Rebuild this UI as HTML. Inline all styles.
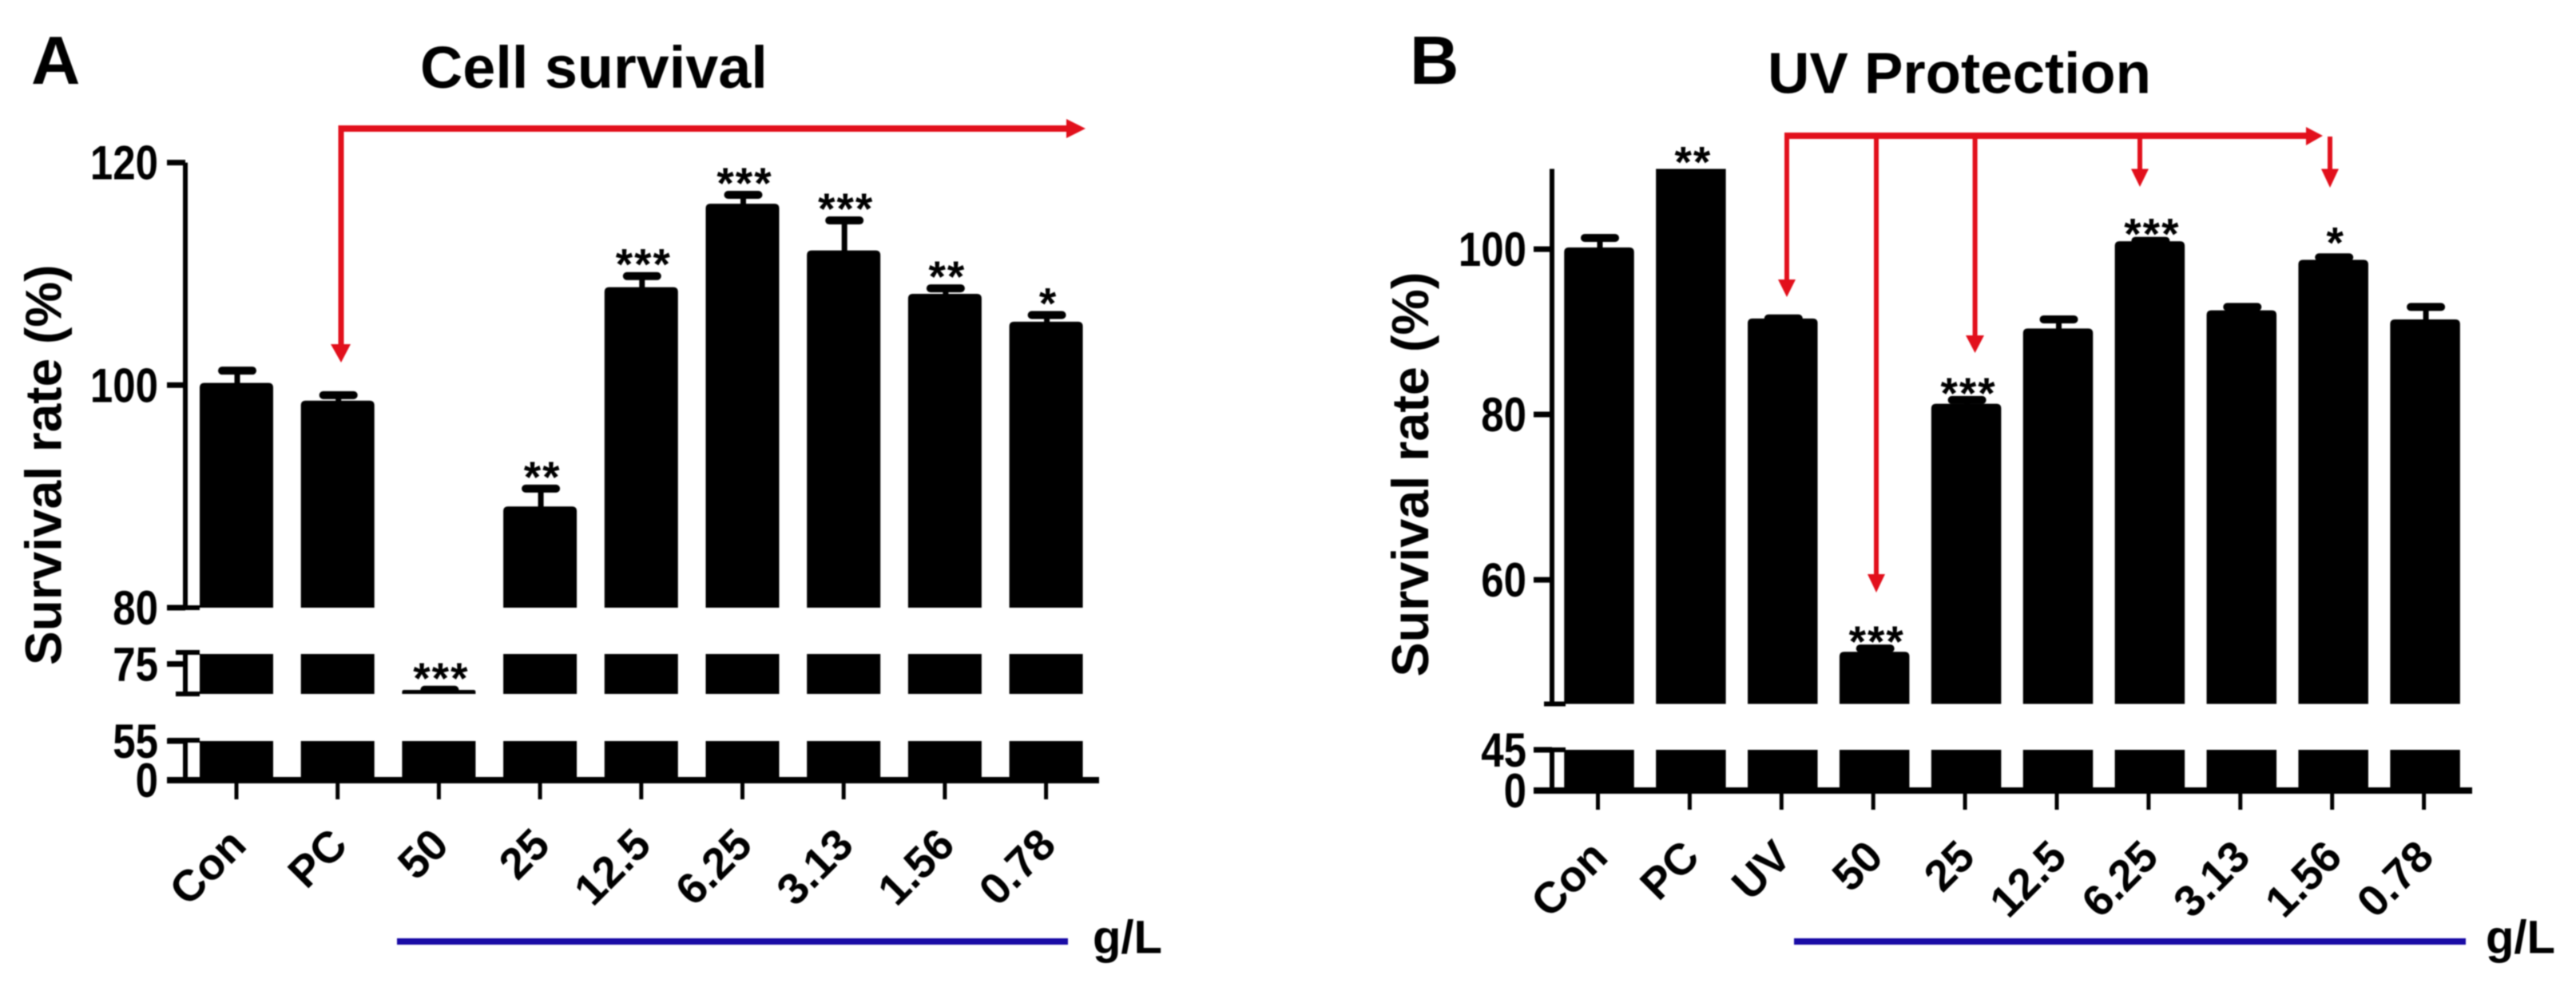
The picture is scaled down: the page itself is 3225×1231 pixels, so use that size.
<!DOCTYPE html>
<html lang="en">
<head>
<meta charset="utf-8">
<title>Cell survival and UV protection</title>
<style>
  html, body { margin: 0; padding: 0; background: #fff; }
  svg { display: block; filter: blur(0.7px); }
  text { font-family: "Liberation Sans", Arial, sans-serif; font-weight: bold; fill: #000; }
</style>
</head>
<body>
<svg id="figure" xmlns="http://www.w3.org/2000/svg" width="3225" height="1231" viewBox="0 0 3225 1231">
  <rect x="0" y="0" width="3225" height="1231" fill="#fff"/>

  <text x="39" y="105" font-size="85">A</text>
  <text x="526" y="110" font-size="73.8">Cell survival</text>
  <text transform="translate(76.5,833) rotate(-90)" font-size="64">Survival rate (%)</text>

  <g fill="#e2101c" stroke="none">
    <rect x="423.5" y="157" width="915" height="8"/>
    <rect x="423.5" y="157" width="7" height="278"/>
    <polygon points="414,431 439,431 427,454"/>
    <polygon points="1335,149 1359,161 1335,173"/>
  </g>
  <rect x="497" y="1175" width="840" height="8" fill="#1a0ca6"/>
  <text x="1368" y="1193.5" font-size="58">g/L</text>

  <text x="1765" y="105" font-size="85">B</text>
  <text x="2213" y="116.6" font-size="72.6">UV Protection</text>
  <text transform="translate(1788,847.5) rotate(-90)" font-size="64.7">Survival rate (%)</text>

  <g fill="#e2101c" stroke="none">
    <rect x="2234" y="166" width="655" height="8"/>
    <polygon points="2887,159 2908,170 2887,182"/>
    <rect x="2234" y="166" width="6" height="186"/>
    <polygon points="2226,350 2248,350 2237,372"/>
    <rect x="2346" y="166" width="6" height="555"/>
    <polygon points="2338,719 2360,719 2349,742"/>
    <rect x="2469.6" y="166" width="6" height="256"/>
    <polygon points="2461,420 2484,420 2472.6,442"/>
    <rect x="2676" y="166" width="6" height="47"/>
    <polygon points="2668,211.5 2690,211.5 2679,234"/>
    <rect x="2914" y="171" width="6" height="42"/>
    <polygon points="2906,211.5 2928,211.5 2917,235"/>
  </g>
  <rect x="2246" y="1175" width="841" height="8" fill="#1a0ca6"/>
  <text x="3112" y="1193.5" font-size="58">g/L</text>

  <g id="panel-a"></g>
  <g id="panel-b"></g>
</svg>

<script>
// Panel A data
const categoriesA = ["Con", "PC", "50", "25", "12.5", "6.25", "3.13", "1.56", "0.78"];
const valuesA = [100.2, 98.6, 72.4, 89.1, 108.8, 116.3, 112.1, 108.2, 105.7];
const errorTopsA = [101.3, 99.1, 72.42, 90.7, 109.8, 117.1, 114.8, 108.7, 106.3];
const significanceA = ["", "", "***", "**", "***", "***", "***", "**", "*"];
const tickLabelsA = [120, 100, 80, 75, 55, 0];

// Panel B data
const categoriesB = ["Con", "PC", "UV", "50", "25", "12.5", "6.25", "3.13", "1.56", "0.78"];
const valuesB = [100.2, 110, 91.6, 51.3, 81.3, 90.4, 100.95, 92.6, 98.7, 91.5];
const errorTopsB = [101.35, 110, 91.62, 51.7, 81.75, 91.5, 101, 93, 99, 93];
const significanceB = ["", "**", "", "***", "***", "", "***", "", "*", ""];
const tickLabelsB = [100, 80, 60, 45, 0];

const SVG_NS = "http://www.w3.org/2000/svg";

function make(tag, attrs, parent) {
  const el = document.createElementNS(SVG_NS, tag);
  for (const k in attrs) el.setAttribute(k, attrs[k]);
  parent.appendChild(el);
  return el;
}

function slug(s) {
  return String(s).replace(/\./g, "-").toLowerCase();
}

function drawPanel(parent, prefix, cfg, cats, vals, errs, sigs, ticks) {
  // Piecewise y axis: value to pixel. Lower segments win at shared boundaries.
  function segScale(seg, v) {
    return seg.y0 - (v - seg.lo) * (seg.y0 - seg.y1) / (seg.hi - seg.lo);
  }
  function y(v) {
    for (let s = cfg.segments.length - 1; s >= 0; s--) {
      const seg = cfg.segments[s];
      if (v >= seg.lo && v <= seg.hi) return segScale(seg, v);
    }
    return segScale(cfg.segments[0], cfg.segments[0].hi);
  }
  function x(i) {
    return cfg.x0 + cfg.step * i;
  }

  // Bars, one block per axis segment
  cats.forEach(function (cat, i) {
    cfg.segments.forEach(function (seg, s) {
      const v = vals[i];
      if (v <= seg.lo) return;
      const clipped = v >= seg.hi;
      const top = segScale(seg, Math.min(v, seg.hi));
      const left = x(i) + cfg.barShift - cfg.barWidth / 2;
      const right = left + cfg.barWidth;
      const r = clipped ? 0 : Math.min(6, (seg.y0 - top) / 2);
      const d = "M" + left + " " + seg.y0 +
        "V" + (top + r) + "Q" + left + " " + top + " " + (left + r) + " " + top +
        "H" + (right - r) + "Q" + right + " " + top + " " + right + " " + (top + r) +
        "V" + seg.y0 + "Z";
      const bar = make("path", { d: d, fill: "#000" }, parent);
      
      
    });
  });

  // Error bars
  cats.forEach(function (cat, i) {
    if (errs[i] <= vals[i]) return;
    const cx = x(i) + cfg.barShift + 1;
    const yTop = y(errs[i]);
    const yBase = y(vals[i]);
    const stem = make("line", { x1: cx, x2: cx, y1: yBase + 2, y2: yTop, stroke: "#000", "stroke-width": 7 }, parent);
    
    
    const cap = make("line", { x1: cx - cfg.capHalf, x2: cx + cfg.capHalf, y1: yTop, y2: yTop, stroke: "#000", "stroke-width": 10, "stroke-linecap": "round" }, parent);
    
    
  });

  // Significance marks
  sigs.forEach(function (sig, i) {
    if (!sig) return;
    const base = Math.max(errs[i], vals[i]);
    const lift = cfg.starOffset + (sig.length === 1 ? cfg.singleStarLift : 0);
    const t = make("text", { x: x(i) + cfg.barShift + 3, y: y(base) - lift + 31, "font-size": 55, "letter-spacing": 2, "text-anchor": "middle" }, parent);
    t.textContent = sig;
    
    
  });

  // Y axis spine pieces
  cfg.segments.forEach(function (seg, s) {
    const spine = make("line", { x1: cfg.axisX, x2: cfg.axisX, y1: seg.y0 + seg.capBelow, y2: seg.y1 - seg.capAbove, stroke: "#000", "stroke-width": 6 }, parent);
    
    
    if (seg.capLeft0 !== null) {
      const c0 = make("line", { x1: seg.capLeft0, x2: cfg.axisX + cfg.capReach, y1: seg.y0 + seg.capBelow, y2: seg.y0 + seg.capBelow, stroke: "#000", "stroke-width": 6 }, parent);
      
      
    }
    if (seg.capLeft1 !== null) {
      const c1 = make("line", { x1: seg.capLeft1, x2: cfg.axisX + cfg.capReach, y1: seg.y1 - seg.capAbove, y2: seg.y1 - seg.capAbove, stroke: "#000", "stroke-width": 6 }, parent);
      
      
    }
  });

  // Y ticks and labels
  ticks.forEach(function (tv) {
    const ty = y(tv);
    const tick = make("line", { x1: cfg.axisX - 23, x2: cfg.axisX, y1: ty, y2: ty, stroke: "#000", "stroke-width": 7 }, parent);
    
    
    const label = make("text", { transform: "translate(" + cfg.yLabelX + "," + (ty + 21) + ") scale(0.85,1)", "font-size": 60, "text-anchor": "end" }, parent);
    label.textContent = tv;
    
    
  });

  // X axis line
  const xAxis = make("line", { x1: cfg.axisX - 23, x2: cfg.xAxisEnd, y1: cfg.baseline, y2: cfg.baseline, stroke: "#000", "stroke-width": 8 }, parent);
  
  

  // X ticks and labels
  cats.forEach(function (cat, i) {
    const tick = make("line", { x1: x(i), x2: x(i), y1: cfg.baseline, y2: cfg.baseline + 24, stroke: "#000", "stroke-width": 5 }, parent);
    
    
    const label = make("text", { transform: "translate(" + (x(i) + cfg.xLabelDx) + "," + cfg.xLabelY + ") rotate(-45)", "font-size": cfg.xLabelSize, "text-anchor": "end" }, parent);
    label.textContent = cat;
    
    
  });
}

drawPanel(document.getElementById("panel-a"), "panel-a", {
  x0: 296, step: 126.7, barShift: 0, barWidth: 92, capHalf: 19,
  axisX: 232, capReach: 18, xAxisEnd: 1376, baseline: 977,
  yLabelX: 198, xLabelDx: 15, xLabelY: 1061, xLabelSize: 55, starOffset: 27, singleStarLift: 0,
  segments: [
    { lo: 80, hi: 120, y0: 761, y1: 203.6, capBelow: 0, capAbove: 0, capLeft0: 210, capLeft1: null },
    { lo: 72, hi: 76, y0: 869, y1: 819, capBelow: 0, capAbove: 2, capLeft0: 220, capLeft1: 220 },
    { lo: 0, hi: 55, y0: 977, y1: 928, capBelow: 0, capAbove: 1, capLeft0: null, capLeft1: 210 }
  ]
}, categoriesA, valuesA, errorTopsA, significanceA, tickLabelsA);

drawPanel(document.getElementById("panel-b"), "panel-b", {
  x0: 2000.5, step: 114.9, barShift: 1.5, barWidth: 87.5, capHalf: 19,
  axisX: 1943, capReach: 17, xAxisEnd: 3095, baseline: 990,
  yLabelX: 1911, xLabelDx: 15, xLabelY: 1076, xLabelSize: 55, starOffset: 21, singleStarLift: 10,
  segments: [
    { lo: 45, hi: 109.7, y0: 881.5, y1: 211.5, capBelow: 0, capAbove: 0, capLeft0: 1933, capLeft1: null },
    { lo: 0, hi: 45, y0: 990, y1: 939, capBelow: 0, capAbove: 0, capLeft0: null, capLeft1: 1920 }
  ]
}, categoriesB, valuesB, errorTopsB, significanceB, tickLabelsB);
</script>
</body>
</html>
